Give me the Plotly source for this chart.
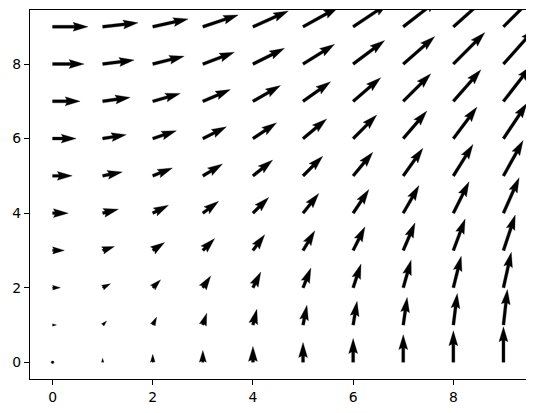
import numpy as np
import plotly.graph_objects as go

# Data: grid positions and vector components
xs = list(range(10))
ys = list(range(10))
X, Y = np.meshgrid(xs, ys)
U = Y.astype(float)          # u component = y
V = X.astype(float)          # v component = x

x_ticks = [0, 2, 4, 6, 8]
y_ticks = [0, 2, 4, 6, 8]

# Layout geometry (pixels); page body has an 8px default margin
W, H = 526, 405
ml, mr, mt, mb = 22, 8, 2, 34
pw, ph = W - ml - mr, H - mt - mb
xr = [-0.45, 9.45]
yr = [-0.45, 9.45]
ppx = pw / (xr[1] - xr[0])
ppy = ph / (yr[1] - yr[0])

# matplotlib-like quiver arrow geometry
N = U.size
width_u = 0.06 / np.clip(np.sqrt(N), 8, 25)
width_px = width_u * pw
mag = np.hypot(U, V).ravel()
scale = 1.8 * mag.mean() * max(10, np.sqrt(N))
length = mag / (scale * width_u)

headwidth, headlength, headaxislength = 3.0, 5.0, 4.5
minshaft, minlength = 1.0, 1.0
minsh = minshaft * headlength
ii = [0, 1, 2, 3, 2, 1, 0, 0]

px_all, py_all = [], []
for x0, y0, u, v, L in zip(X.ravel(), Y.ravel(), U.ravel(), V.ravel(), length):
    if L < minlength:
        th = np.arange(0, 8) * (np.pi / 3.0)
        ax_ = np.cos(th) * minlength * 0.5
        ay_ = np.sin(th) * minlength * 0.5
    elif L < minsh:
        xx = np.array([0, minsh - headaxislength, minsh - headlength, minsh])
        yy = 0.5 * np.array([1, 1, headwidth, 0])
        ax_ = xx[ii] * (L / minsh)
        ay_ = yy[ii].copy()
        ay_[3:-1] *= -1
        ay_ = ay_ * (L / minsh)
    else:
        xx = np.array([0, -headaxislength, -headlength, 0]) + np.array([0, 1, 1, 1]) * L
        yy = 0.5 * np.array([1, 1, headwidth, 0])
        ax_ = xx[ii]
        ay_ = yy[ii].copy()
        ay_[3:-1] *= -1
    theta = np.arctan2(v, u) if (u != 0 or v != 0) else 0.0
    c, s = np.cos(theta), np.sin(theta)
    rx = (ax_ * c - ay_ * s) * width_px
    ry = (ax_ * s + ay_ * c) * width_px
    px_all.extend(list(x0 + rx / ppx) + [None])
    py_all.extend(list(y0 + ry / ppy) + [None])

fig = go.Figure()
fig.add_trace(go.Scatter(
    x=px_all, y=py_all, mode="lines", fill="toself",
    fillcolor="black", line=dict(color="black", width=0.3),
    hoverinfo="skip", showlegend=False,
))

axis_common = dict(
    showgrid=False, zeroline=False, showline=True, mirror=True,
    linecolor="black", linewidth=1.1, ticks="outside", ticklen=5,
    tickwidth=1.1, tickcolor="black", automargin=False,
    tickfont=dict(family="DejaVu Sans", size=13.9, color="black"),
)
fig.update_xaxes(range=xr, tickvals=x_ticks, **axis_common)
fig.update_yaxes(range=yr, tickvals=y_ticks, **axis_common)
fig.update_layout(
    width=W, height=H,
    margin=dict(l=ml, r=mr, t=mt, b=mb, autoexpand=False),
    paper_bgcolor="white", plot_bgcolor="white",
)
fig.write_html("out.html")
